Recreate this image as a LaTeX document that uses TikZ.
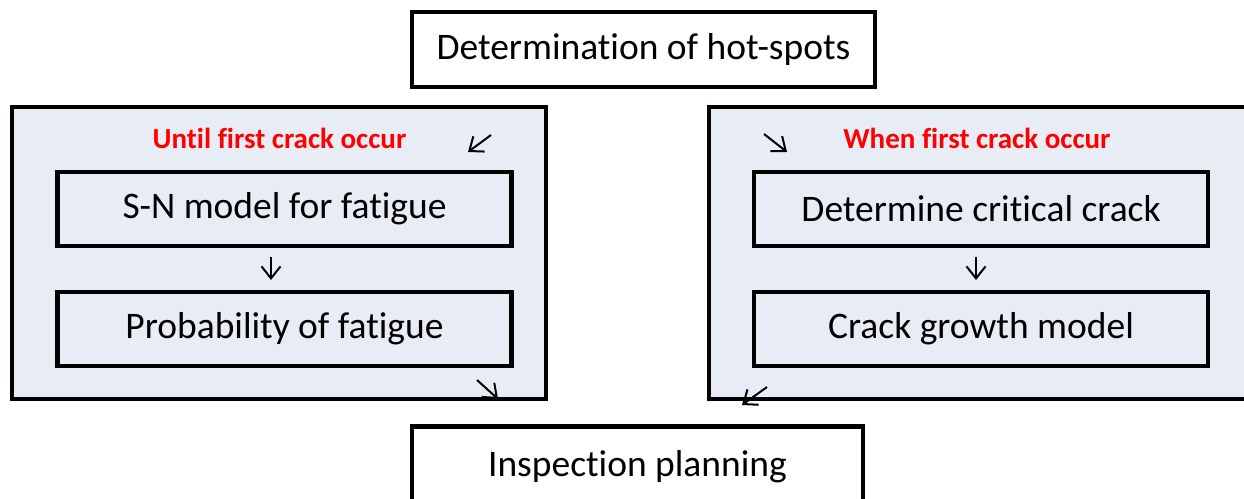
\documentclass[tikz,border=0pt]{standalone}
\usepackage{fontspec}
\setmainfont{Carlito}[Ligatures=NoCommon]
\usepackage{xcolor}
\usetikzlibrary{arrows.meta,positioning}

\definecolor{panelfill}{RGB}{231,236,245}

\begin{document}
\begin{tikzpicture}[x=1pt, y=1pt, >={Straight Barb[length=12pt,width=19pt]},
  every box/.style={draw, line width=4.5pt, inner sep=0pt, align=center,
    font=\fontsize{37.5}{42}\selectfont},
  stage/.style={every box/.try, fill=white},
  panel/.style={draw, line width=4.5pt, fill=panelfill, inner sep=0pt},
  inner/.style={every box/.try, minimum width=454pt, minimum height=74pt},
  phase/.style={text=red, font=\fontsize{29}{34}\selectfont\bfseries},
  flow/.style={->, line width=2pt}]

\clip (0,0) rectangle (1244,498);

% stages at top and bottom
\node [stage, minimum width=463pt, minimum height=75pt] (hotspots) at (643.5,448.5)
  {Determination of hot-spots};
\node [stage, minimum width=451pt, minimum height=80pt, anchor=north] (planning) at (637.5,74)
  {Inspection planning};

% the two phases
\node [panel, minimum width=534pt, minimum height=292pt] (before) at (279,245) {};
\node [panel, minimum width=553pt, minimum height=292pt] (after) at (985.5,245) {};

\foreach \p/\x/\l in {before/279.5/Until first crack occur, after/977/When first crack occur}
  \node [phase] (\p-title) at (\x,360) {\l};

\foreach \m/\l [count=\y] in {sn/S-N model for fatigue, pf/Probability of fatigue}
  \node [inner] (\m) at (284.5,409-\y*120) {\l};

\foreach \m/\l [count=\y] in {crit/Determine critical crack, growth/Crack growth model}
  \node [inner] (\m) at (981,409-\y*120) {\l};

% loose arrows
\coordinate (in-l-a) at (491,363);  \coordinate (in-l-b) at (468,346);
\coordinate (in-r-a) at (764,364);  \coordinate (in-r-b) at (787,346);
\coordinate (mid-l-a) at (271,241); \coordinate (mid-l-b) at (271,218);
\coordinate (mid-r-a) at (976,241); \coordinate (mid-r-b) at (976,218);
\coordinate (out-l-a) at (477,118); \coordinate (out-l-b) at (498,99);
\coordinate (out-r-a) at (767,111); \coordinate (out-r-b) at (742,93);

\foreach \a in {in-l, in-r, mid-l, mid-r, out-l, out-r}
  \draw [flow] (\a-a) -- (\a-b);

\end{tikzpicture}
\end{document}
